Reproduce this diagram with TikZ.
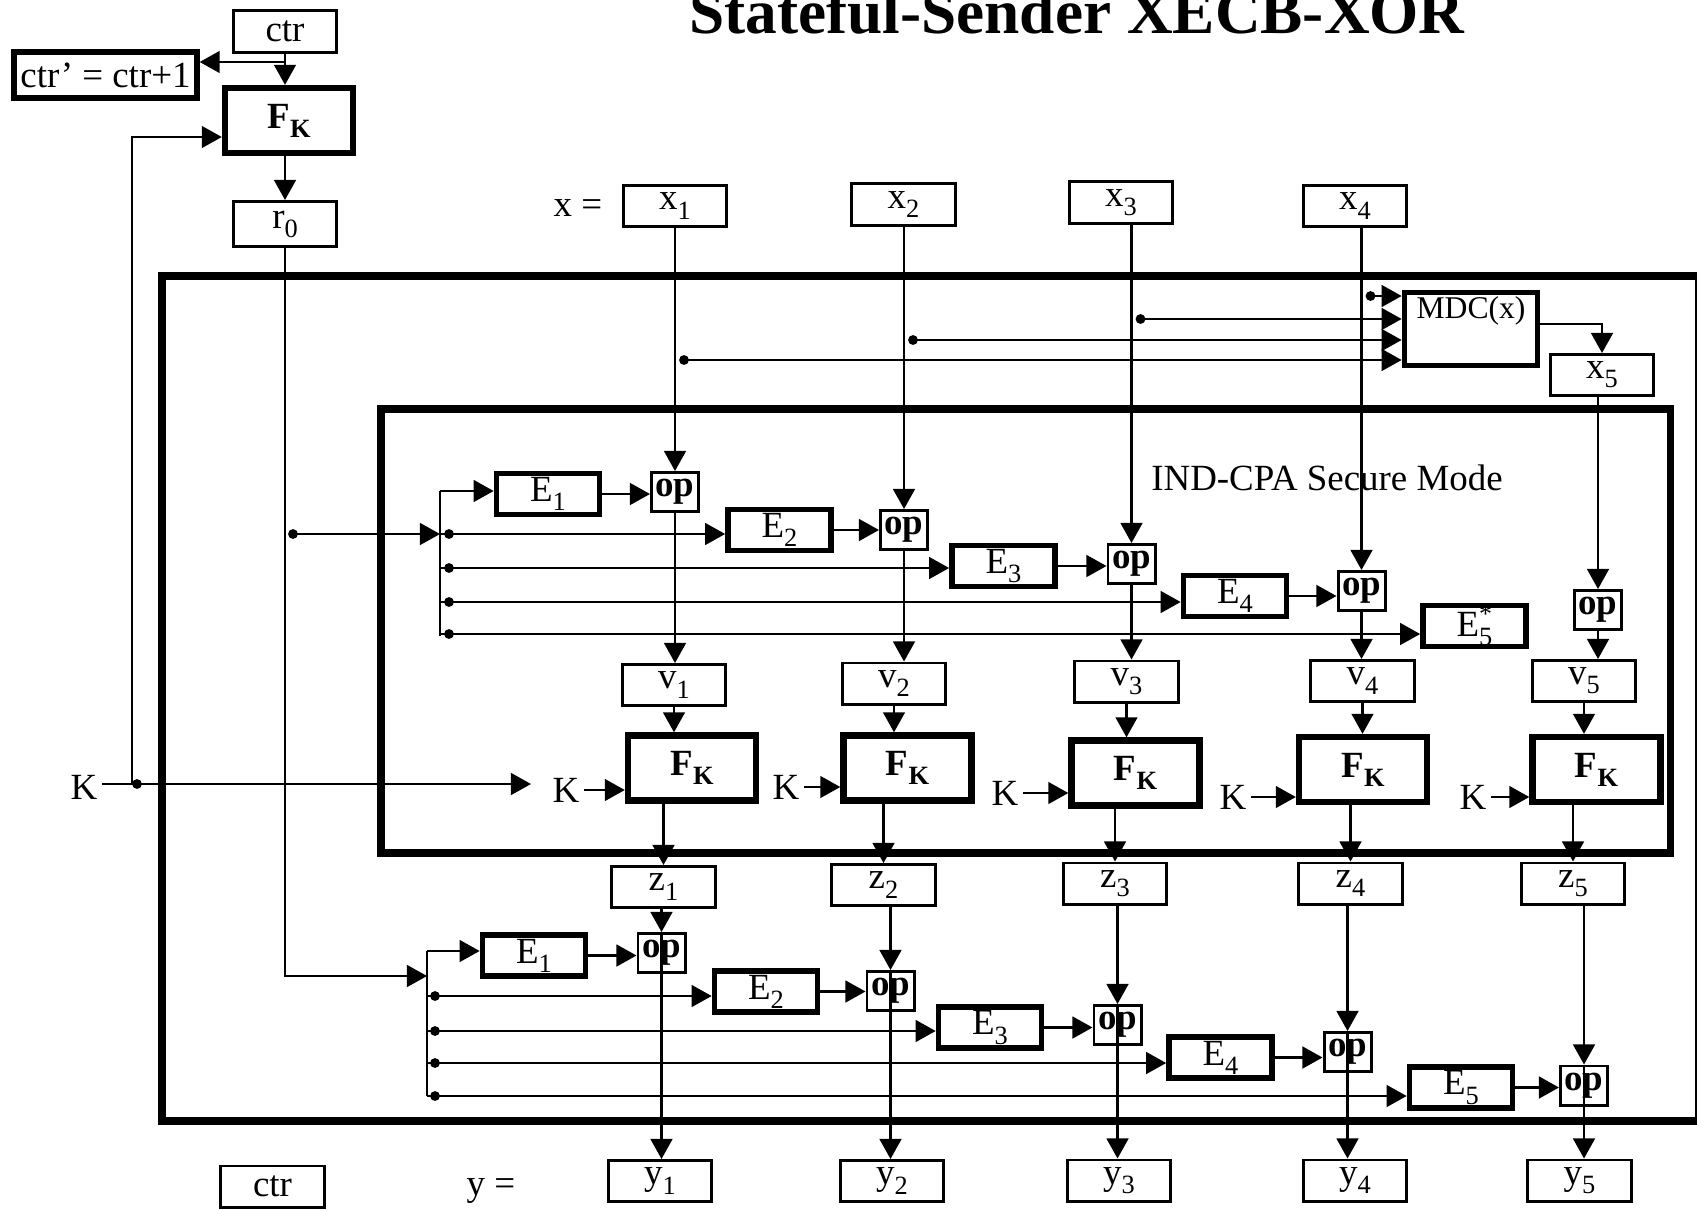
\documentclass[tikz,border=0pt]{standalone}
\usepackage{fontspec}
\setmainfont{Liberation Serif}
\usepackage{tikz}
\usetikzlibrary{arrows.meta}
\newcommand{\nf}{\fontsize{10.5}{12.5}\selectfont}
\newcommand{\sbx}[1]{\raisebox{-2.6pt}{\fontsize{7.5}{8}\selectfont #1}}

\begin{document}
\begin{tikzpicture}[x=0.01cm,y=-0.01cm,font=\nf,line width=0.6pt,
    >={Triangle[length=5.7pt,width=6.2pt]},
    box/.style={draw,line width=0.85pt,inner sep=0pt,minimum width=1.03cm,minimum height=0.41cm},
    ebox/.style={draw,line width=1.6pt,inner sep=0pt,minimum width=1.03cm,minimum height=0.41cm},
    fbox/.style={draw,line width=1.8pt,inner sep=0pt,minimum width=1.28cm,minimum height=0.65cm,font=\nf\bfseries},
    opbox/.style={draw,line width=0.85pt,inner sep=0pt,minimum width=0.47cm,minimum height=0.39cm,font=\nf\bfseries},
    frame/.style={line width=2pt}]
    \useasboundingbox (0,0) rectangle (1697,1209);

    \node[font=\fontsize{18}{20}\selectfont\bfseries,anchor=base] (ttl) at (1077,34) {Stateful-Sender XECB-XOR};

    % frames
    \draw[frame] (162,276) rectangle (1698,1121);
    \draw[frame] (381,409) rectangle (1670,853);
    \node (ind) at (1327,478) {IND-CPA Secure Mode};

    % counter and r0
    \node[box] (ctr) at (285,31.5) {ctr};
    \node[box,line width=1.5pt,minimum width=1.83cm,minimum height=0.46cm] (ctrn) at (105.5,75) {ctr’ = ctr+1};
    \node[fbox] (fk0) at (289,120.5) {F\sbx{K}};
    \node[box,minimum height=0.45cm] (r0) at (285,224) {r\sbx{0}};
    \draw[->] (ctr.south) -- (ctr.south |- fk0.north);
    \coordinate (cj) at (285,62);
    \draw[->] (cj) -- (ctrn.east |- cj);
    \draw[->] (fk0.south -| r0.north) -- (r0.north);

    % key
    \node[inner sep=1pt] (kk) at (84,787) {K};
    \coordinate (kin) at (531,784);
    \coordinate (kfb) at (132,784);
    \draw[->] (kk.east |- kin) -- (kin);
    \fill (137,784) circle (1.4pt);
    \draw[->] (kfb) |- ([yshift=-0.165cm]fk0.west);

    % message blocks
    \node (xeq) at (578,208) {x =};
    \foreach \i/\px/\py in {1/675/206,2/903.5/204.5,3/1121/202.5,4/1355/206}
      \node[box] (x\i) at (\px,\py) {x\sbx{\i}};
    \node[draw,line width=1.6pt,inner sep=0pt,minimum width=1.33cm,minimum height=0.73cm,
      text depth=0.42cm,font=\fontsize{9}{11}\selectfont] (mdc) at (1471,329) {MDC(x)};
    \node[box] (x5) at (1602,375) {x\sbx{5}};
    \draw[->] ([yshift=0.05cm]mdc.east) -| (x5.north);

    % upper stage
    \foreach \i/\px/\py in {1/675/492,2/904/530,3/1131.5/564,4/1361.5/591,5/1598/610}
      \node[opbox] (opA\i) at (\px,\py) {op};
    \foreach \i/\px/\py in {1/548/494,2/779.5/530,3/1003.5/566,4/1235/596}
      \node[ebox] (eA\i) at (\px,\py) {E\sbx{\i}};
    \node[ebox] (eA5) at (1474.5,626) {E\rlap{\textsuperscript{*}}\sbx{5}};
    \foreach \i/\px/\py in {1/674/685,2/894/683.5,3/1126.5/681.5,4/1362.5/681,5/1584/681}
      \node[box] (v\i) at (\px,\py) {v\sbx{\i}};
    \foreach \i/\px/\py in {1/692/768,2/907.5/768,3/1135.5/773,4/1363/769.5,5/1596.5/769.5}
      \node[fbox] (fk\i) at (\px,\py) {F\sbx{K}};
    \foreach \i/\px/\py in {1/663.5/887,2/883.5/885,3/1115/883.5,4/1350.5/883.5,5/1573/883.5}
      \node[box] (z\i) at (\px,\py) {z\sbx{\i}};

    \foreach \i/\yy in {1/360,2/340,3/319,4/296}{
      \coordinate (hy\i) at (0,\yy);
      \path (opA\i.north |- hy\i) ++(9,0) coordinate (m\i);
      \fill (m\i) circle (1.4pt);
      \draw[->] (m\i) -- (mdc.west |- m\i);
    }

    \coordinate (ta) at (440,491);
    \coordinate (tb) at (440,636);
    \coordinate (rdot) at (293,534);
    \draw (ta) -- (tb);
    \draw[->] (ta) -- (eA1.west |- ta);
    \fill (rdot) circle (1.4pt);
    \draw[->] (rdot) -- (ta |- rdot);
    \foreach \i/\yy in {2/534,3/568,4/602,5/634}{
      \coordinate (ua\i) at (449,\yy);
      \fill (ua\i) circle (1.4pt);
      \draw[->] (ta |- ua\i) -- (eA\i.west |- ua\i);
    }
    \foreach \i in {1,...,4}
      \draw[->] (eA\i.east) -- (opA\i.west |- eA\i.east);
    \foreach \i in {1,...,5}{
      \draw[->] (opA\i.north |- x\i.south) -- (opA\i.north);
      \draw[->] (opA\i.south) -- (opA\i.south |- v\i.north);
      \draw[->] (v\i.south) -- (v\i.south |- fk\i.north);
      \draw[->] (z\i.north |- fk\i.south) -- (z\i.north);
    }
    \foreach \i/\px/\py in {1/566/790,2/786/787,3/1005/793,4/1233/797,5/1473/797}{
      \node[inner sep=1pt] (kl\i) at (\px,\py) {K};
      \draw[->] (kl\i.east) -- (fk\i.west |- kl\i.east);
    }

    % lower stage
    \foreach \i/\px/\py in {1/661.5/953,2/890.5/991,3/1117.5/1025,4/1347.5/1052,5/1584/1085.5}
      \node[opbox] (opB\i) at (\px,\py) {op};
    \foreach \i/\px/\py in {1/534/955.5,2/766/991.5,3/990/1027.5,4/1220.5/1057.5,5/1461/1087.5}
      \node[ebox] (eB\i) at (\px,\py) {E\sbx{\i}};
    \foreach \i/\px/\py in {1/660/1181,2/892/1181,3/1119/1180.5,4/1355/1180.5,5/1579.5/1180.5}
      \node[box] (y\i) at (\px,\py) {y\sbx{\i}};
    \node[box] (ctrb) at (272.5,1186.5) {ctr};
    \node (yeq) at (491,1191) {y =};

    \coordinate (tc) at (427,951);
    \coordinate (td) at (427,1096);
    \coordinate (rl) at (427,976);
    \draw (tc) -- (td);
    \draw[->] (r0.south) |- (rl);
    \draw[->] (tc) -- (eB1.west |- tc);
    \foreach \i/\yy in {2/996,3/1031,4/1063,5/1096}{
      \coordinate (ub\i) at (435,\yy);
      \fill (ub\i) circle (1.4pt);
      \draw[->] (tc |- ub\i) -- (eB\i.west |- ub\i);
    }
    \foreach \i in {1,...,5}{
      \draw[->] (eB\i.east) -- (opB\i.west |- eB\i.east);
      \draw[->] (opB\i.north |- z\i.south) -- (opB\i.north);
      \draw[->] (opB\i.north) -- (opB\i.north |- y\i.north);
    }
\end{tikzpicture}
\end{document}
